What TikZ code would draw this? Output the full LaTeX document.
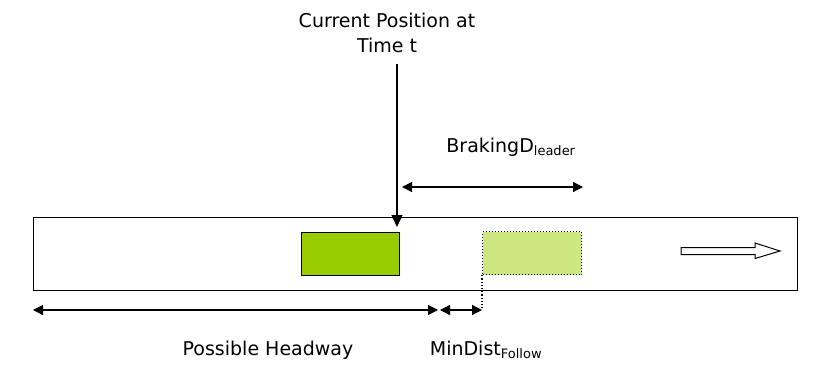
\documentclass[tikz,border=0pt]{standalone}
\usepackage{fontspec}
\setmainfont{DejaVu Sans}
\usetikzlibrary{arrows.meta}
\definecolor{dgreen}{HTML}{99CC00}
\definecolor{lgreen}{HTML}{CCE680}
\tikzset{
  lbl/.style={font=\fontsize{19}{25}\selectfont, inner sep=0pt, align=center},
  dim/.style={line width=1.2pt, {Triangle[length=10pt,width=10pt]}-{Triangle[length=10pt,width=10pt]}},
  box/.style={draw, line width=1pt, minimum width=#1, inner sep=0pt, anchor=north west},
}
\newcommand{\subtxt}[1]{\textsubscript{\fontsize{13}{15}\selectfont #1}}
\begin{document}
\begin{tikzpicture}[x=1pt,y=-1pt]
\useasboundingbox (0,0) rectangle (817,378);
% road
\node[box=764pt, minimum height=73pt] (road) at (33,217) {};
% cars
\node[box=98pt, minimum height=43pt, fill=dgreen, line width=1.2pt] (car) at (301,232) {};
\node[box=99pt, minimum height=43pt, fill=lgreen, dotted, line width=1.2pt] (lead) at (482,231) {};
% direction arrow (hollow block arrow)
\draw[line width=1pt, fill=white] (681,247.5) -- (755,247.5) -- (755,243) -- (780,251)
  -- (755,258.5) -- (755,254.5) -- (681,254.5) -- cycle;
% labels
\node[lbl] (cur) at (387,33) {Current Position at\\Time t};
\node[lbl, anchor=base] (brk) at (511,152) {BrakingD\subtxt{leader}};
\node[lbl, anchor=base] (hw) at (268,355) {Possible Headway};
\node[lbl, anchor=base] (md) at (486,355) {MinDist\subtxt{Follow}};
% coordinates
\coordinate (ptop) at (397,64);
\coordinate (ptip) at (397,227);
\coordinate (bl) at (402,187);
\coordinate (br) at (583,187);
\coordinate (hl) at (33,310);
\coordinate (hr) at (438,310);
\coordinate (ml) at (440,310);
\coordinate (mr) at (482,310);
% connectors
\draw[line width=1.2pt, -{Triangle[length=12pt,width=11pt]}] (ptop) -- (ptip);
\draw[dim] (bl) -- (br);
\draw[dim] (hl) -- (hr);
\draw[dim] (ml) -- (mr);
\draw[dotted, line width=1.2pt] (lead.south west) -- (mr);
\end{tikzpicture}
\end{document}
